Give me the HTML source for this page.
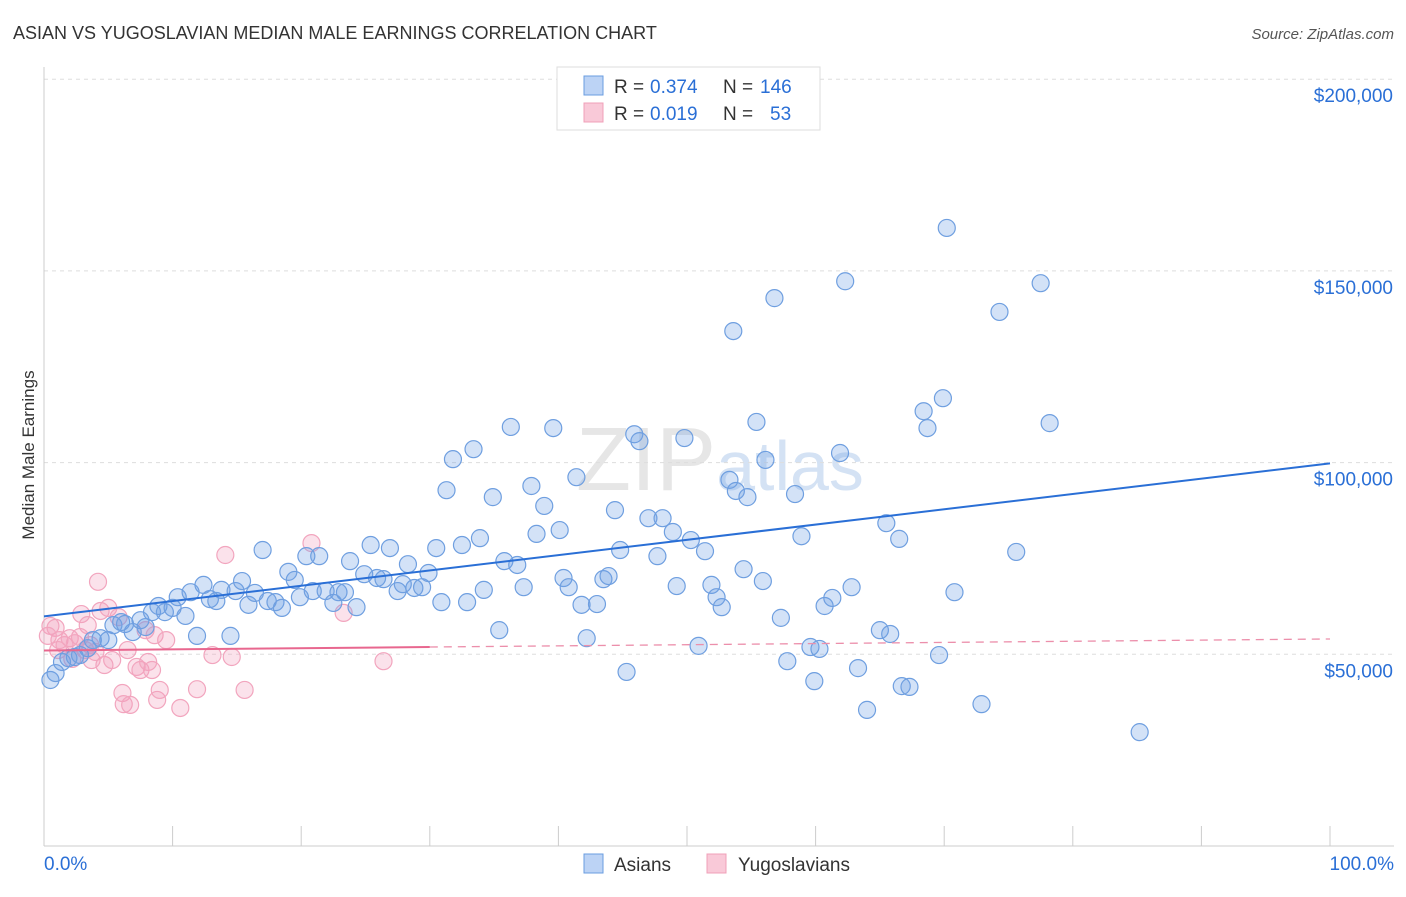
<!DOCTYPE html>
<html><head><meta charset="utf-8"><style>
body{margin:0;background:#fff;font-family:"Liberation Sans",sans-serif;}
svg text{font-family:"Liberation Sans",sans-serif;}
</style></head><body>
<svg id="chart" width="1406" height="892" xmlns="http://www.w3.org/2000/svg">
<text x="13" y="39" font-size="18" fill="#333">ASIAN VS YUGOSLAVIAN MEDIAN MALE EARNINGS CORRELATION CHART</text>
<text x="1394" y="39" font-size="15" fill="#555" text-anchor="end" font-style="italic">Source: ZipAtlas.com</text>
<text x="720" y="490" font-size="90" text-anchor="middle" fill="#e6e6e6" font-family="Liberation Serif">ZIP<tspan fill="#d4e2f4" font-family="Liberation Sans" font-size="70">atlas</tspan></text>
<g id="grid"></g>
<g id="axes"></g>
<g id="pts"></g>
<g id="trends"></g>
<text transform="translate(34,455) rotate(-90)" font-size="17" fill="#333" text-anchor="middle">Median Male Earnings</text>
<g>
<rect x="557" y="67" width="263" height="63" fill="#fff" stroke="#ddd"/>
<rect x="584" y="76" width="19" height="19" fill="#bcd3f5" stroke="#6a9de0"/>
<rect x="584" y="103" width="19" height="19" fill="#f9c9d8" stroke="#f0a0b8"/>
<text x="614" y="93" font-size="19" fill="#333">R =</text>
<text x="650" y="93" font-size="19" fill="#2a6fd6">0.374</text>
<text x="723" y="93" font-size="19" fill="#333">N =</text>
<text x="760" y="93" font-size="19" fill="#2a6fd6">146</text>
<text x="614" y="120" font-size="19" fill="#333">R =</text>
<text x="650" y="120" font-size="19" fill="#2a6fd6">0.019</text>
<text x="723" y="120" font-size="19" fill="#333">N =</text>
<text x="770" y="120" font-size="19" fill="#2a6fd6">53</text>
</g>
<g>
<rect x="584" y="854" width="19" height="19" fill="#bcd3f5" stroke="#6a9de0"/>
<text x="614" y="871" font-size="19" fill="#333">Asians</text>
<rect x="707" y="854" width="19" height="19" fill="#f9c9d8" stroke="#f0a0b8"/>
<text x="738" y="871" font-size="19" fill="#333">Yugoslavians</text>
</g>
</svg>
<script>
const yTicks=[50000,100000,150000,200000];
const yTickLabels=["$50,000","$100,000","$150,000","$200,000"];
const asianX=[0.5,0.9,1.4,1.9,2.4,2.8,3.4,3.8,4.4,5.0,5.4,6.0,6.3,6.9,7.5,7.9,8.4,8.9,9.4,10.0,10.4,11.0,11.4,11.9,12.4,12.9,13.4,13.8,14.5,14.9,15.4,15.9,16.4,17.0,17.4,18.0,18.5,19.0,19.5,19.9,20.4,20.9,21.4,21.9,22.5,22.9,23.4,23.8,24.3,24.9,25.4,25.9,26.4,26.9,27.5,27.9,28.3,28.8,29.4,29.9,30.5,30.9,31.3,31.8,32.5,32.9,33.4,33.9,34.2,34.9,35.4,36.3,35.8,36.8,37.3,37.9,38.3,38.9,39.6,40.1,40.4,40.8,41.4,41.8,42.2,43.0,43.5,43.9,44.4,44.8,45.3,45.9,46.3,47.0,47.7,48.1,48.9,49.2,49.8,50.3,50.9,51.4,51.9,52.3,52.7,53.3,53.6,53.8,54.4,54.7,55.4,55.9,56.1,56.8,57.3,57.8,58.4,58.9,59.6,59.9,60.3,60.7,61.3,61.9,62.3,62.8,63.3,64.0,65.0,65.5,65.8,66.5,66.7,67.3,68.4,68.7,69.6,69.9,70.2,70.8,72.9,74.3,75.6,77.5,78.2,85.2];
const asianY=[43.3,45.1,48.0,49.0,49.3,49.8,51.6,53.7,54.2,53.7,57.6,58.4,57.9,55.8,58.9,57.1,61.0,62.6,61.0,62.1,64.9,60.0,66.2,54.8,68.1,64.4,63.9,66.8,54.8,66.5,69.1,62.9,66.0,77.2,63.9,63.6,62.1,71.5,69.4,64.9,75.6,66.5,75.6,66.5,63.4,66.2,66.2,74.3,62.3,70.9,78.5,69.9,69.6,77.7,66.5,68.3,73.5,67.3,67.5,71.2,77.7,63.6,92.8,100.9,78.5,63.6,103.5,80.3,66.8,91.0,56.3,109.3,74.3,73.3,67.5,93.9,81.4,88.7,109.0,82.4,69.9,67.5,96.2,62.9,54.2,63.1,69.6,70.4,87.6,77.2,45.4,107.4,105.6,85.5,75.6,85.5,81.9,67.8,106.4,79.8,52.2,76.9,68.1,64.9,62.3,95.5,134.3,92.6,72.2,91.0,110.6,69.1,100.7,142.9,59.5,48.2,91.8,80.8,51.9,43.0,51.4,62.6,64.7,102.5,147.3,67.5,46.4,35.5,56.3,84.2,55.3,80.1,41.7,41.5,113.4,109.0,49.8,116.8,161.2,66.2,37.0,139.3,76.7,146.8,110.3,29.7];
const yugoX=[0.5,0.9,1.2,1.6,2.0,2.4,2.8,3.2,3.6,4.2,2.9,3.4,4.4,4.7,5.0,5.3,5.8,6.1,6.2,6.5,6.7,7.2,7.5,7.9,8.1,8.4,8.6,8.8,9.0,9.5,10.6,11.9,13.1,14.1,14.6,15.6,20.8,23.3,26.4,0.3,1.1,2.2,3.7,4.0];
const yugoY=[57.4,56.9,53.7,52.4,54.2,52.9,54.5,51.1,52.4,68.9,60.5,57.6,61.3,47.2,62.1,48.5,59.7,39.9,37.0,51.1,36.8,46.7,45.9,56.3,48.0,45.9,55.0,38.1,40.7,53.7,36.0,40.9,49.8,75.9,49.3,40.7,79.0,60.8,48.2,54.8,51.1,48.8,48.5,50.6];
const asianTrend=[59.9,99.8];
const yugoTrend=[51.0,54.0];
const NS="http://www.w3.org/2000/svg";
const X0=44,X1=1330,YB=846,PXPER=191.7/50000;
const xs=p=>X0+(X1-X0)*p/100;
const ys=v=>YB-v*PXPER;
function mk(tag,attrs,parent){const e=document.createElementNS(NS,tag);for(const k in attrs)e.setAttribute(k,attrs[k]);parent.appendChild(e);return e;}
const grid=document.getElementById('grid'),axes=document.getElementById('axes'),pts=document.getElementById('pts'),tr=document.getElementById('trends');
yTicks.forEach((v,i)=>{
 const g=mk('line',{x1:X0,x2:1394,y1:ys(v),y2:ys(v),stroke:'#ddd','stroke-dasharray':'4,4'},grid);
 
 
 const t=mk('text',{x:1393,y:ys(v)+23,'font-size':19,fill:'#2a6fd6','text-anchor':'end'},axes);
 t.textContent=yTickLabels[i];
 
 
});
let a=mk('line',{x1:X0,x2:X0,y1:67,y2:YB,stroke:'#ccc'},axes);


a=mk('line',{x1:X0,x2:1394,y1:YB,y2:YB,stroke:'#ccc'},axes);


for(let i=0;i<=10;i++){
 const t=mk('line',{x1:xs(i*10),x2:xs(i*10),y1:826,y2:YB,stroke:'#ccc'},axes);
 
 
}
let t=mk('text',{x:44,y:870,'font-size':19,fill:'#2a6fd6'},axes);t.textContent='0.0%';


t=mk('text',{x:1394,y:870,'font-size':19,fill:'#2a6fd6','text-anchor':'end'},axes);t.textContent='100.0%';


yugoX.forEach((x,i)=>{
 const c=mk('circle',{cx:xs(x),cy:ys(yugoY[i]*1000),r:8.5,fill:'rgba(243,160,190,0.3)',stroke:'#f2a5be','stroke-width':1.2},pts);
 
 
});
asianX.forEach((x,i)=>{
 const c=mk('circle',{cx:xs(x),cy:ys(asianY[i]*1000),r:8.5,fill:'rgba(110,160,230,0.3)',stroke:'#6f9fe0','stroke-width':1.2},pts);
 
 
});
l=mk('line',{x1:xs(0),x2:xs(100),y1:ys(asianTrend[0]*1000),y2:ys(asianTrend[1]*1000),stroke:'#2a6fd6','stroke-width':2},tr);


const ym=yugoTrend[0]+(yugoTrend[1]-yugoTrend[0])*0.3;
l=mk('line',{x1:xs(0),x2:xs(30),y1:ys(yugoTrend[0]*1000),y2:ys(ym*1000),stroke:'#e8678f','stroke-width':2},tr);


l=mk('line',{x1:xs(30),x2:xs(100),y1:ys(ym*1000),y2:ys(yugoTrend[1]*1000),stroke:'#ec8fab','stroke-width':1.3,'stroke-dasharray':'8,6'},tr);


</script>
</body></html>
